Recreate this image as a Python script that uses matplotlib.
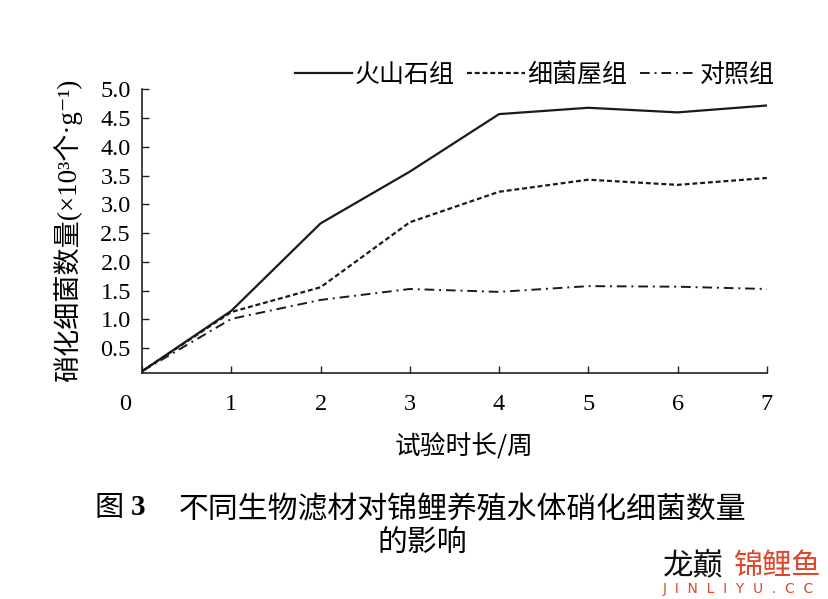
import matplotlib
matplotlib.use("Agg")
import matplotlib.pyplot as plt
import matplotlib.transforms as mtransforms

weeks = [0, 1, 2, 3, 4, 5, 6, 7]
volcanic = [0.10, 1.15, 2.67, 3.57, 4.57, 4.68, 4.60, 4.72]
bact_house = [0.10, 1.13, 1.56, 2.69, 3.22, 3.43, 3.34, 3.46]
control = [0.10, 1.01, 1.34, 1.53, 1.48, 1.58, 1.57, 1.53]
series_names = ["火山石组", "细菌屋组", "对照组"]
xtick_labels = ["0", "1", "2", "3", "4", "5", "6", "7"]
yticks = [0.5, 1.0, 1.5, 2.0, 2.5, 3.0, 3.5, 4.0, 4.5, 5.0]

CJK = ["Noto Sans CJK SC", "DejaVu Sans"]
SERIF = ["Liberation Serif", "Noto Sans CJK SC", "DejaVu Sans"]

fig = plt.figure(figsize=(8.29, 5.99), dpi=100)
ax = fig.add_axes([0.1713, 0.3773, 0.7537, 0.4735])

ax.plot(weeks, volcanic, color="#1a1a1a", lw=1.6, ls="-", label=series_names[0])
ax.plot(weeks, bact_house, color="#1a1a1a", lw=1.6, ls=(0, (2.2, 1.3)), label=series_names[1])
ax.plot(weeks, control, color="#1a1a1a", lw=1.4, ls=(0, (5, 2.5, 1, 2.5)), label=series_names[2])

ax.set_xlim(0, 7)
ax.set_ylim(0.07, 5.0)
ax.set_xticks(weeks)
ax.set_xticklabels(xtick_labels, family=SERIF, fontsize=17.5)
ax.set_yticks(yticks)
ax.set_yticklabels([f"{v:.1f}" for v in yticks], family=SERIF, fontsize=17.5)
for s in ["top", "right"]:
    ax.spines[s].set_visible(False)
for s in ["left", "bottom"]:
    ax.spines[s].set_linewidth(1.2)
    ax.spines[s].set_color("#222222")
ax.tick_params(axis="both", direction="in", length=5, width=1.0, color="#222222")
ax.tick_params(axis="x", pad=15)
ax.tick_params(axis="y", pad=8)

# shift the "0" label to the left of the origin
lbl0 = ax.get_xticklabels()[0]
lbl0.set_transform(lbl0.get_transform() + mtransforms.ScaledTranslation(-0.17, 0, fig.dpi_scale_trans))

fig.text(464 / 829, 1 - 447 / 599, "试验时长/周", family=CJK, fontsize=18.5,
         ha="center", va="center")
fig.text(68 / 829, 1 - 230 / 599, "硝化细菌数量(×10³个·g⁻¹)", family=SERIF, fontsize=19.5,
         rotation=90, ha="center", va="center")

leg = ax.legend(loc="center right", bbox_to_anchor=(1.013, 1.05), ncol=3, frameon=False,
                prop={"family": CJK, "size": 18}, handlelength=2.3, handletextpad=0.1,
                columnspacing=0.5, borderpad=0, borderaxespad=0)

fig.text(95 / 829, 0.152, "图", family=CJK, fontsize=21, ha="left", va="center")
fig.text(138 / 829, 0.152, "3", family=SERIF, fontsize=21, weight="bold", ha="center", va="center")
fig.text(463 / 829, 0.150, "不同生物滤材对锦鲤养殖水体硝化细菌数量", family=CJK,
         fontsize=21.5, ha="center", va="center")
fig.text(422 / 829, 1 - 542 / 599, "的影响", family=CJK, fontsize=21.5,
         ha="center", va="center")

# watermark
fig.text(663 / 829, 1 - 566 / 599, "龙巅", family=CJK, fontsize=22, color="#111111", ha="left", va="center")
fig.text(733 / 829, 1 - 566 / 599, "锦鲤鱼", family=CJK, fontsize=21, color="#e0452a", ha="left", va="center")
fig.text(663 / 829, 1 - 589 / 599, "J  I  N  L  I  Y  U  .  C  C", family=["DejaVu Sans"], fontsize=10,
         color="#e0452a", ha="left", va="center")

fig.savefig("out.png", dpi=100)
